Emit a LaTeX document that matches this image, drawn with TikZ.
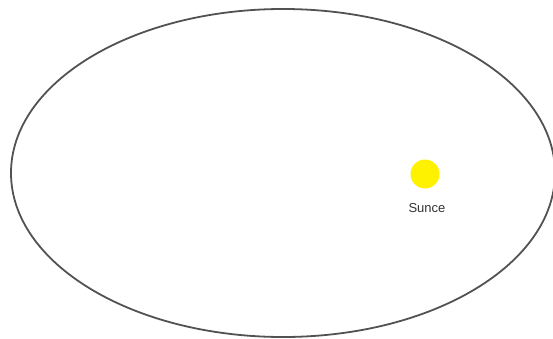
\documentclass[tikz,border=0pt]{standalone}
\usepackage{fontspec}
\setmainfont{Liberation Sans}

\begin{document}
\begin{tikzpicture}[x=1pt,y=-1pt]
\path[use as bounding box] (0,0) rectangle (553,338);
\draw[line width=1.8pt,draw=black!68] (283,173) ellipse [x radius=272,y radius=164];
\node[circle,fill=yellow,minimum size=29pt,inner sep=0pt] (sun) at (425,174) {};
\node[text=black!80,font=\fontsize{13}{15}\selectfont] (label) at (427,208) {Sunce};
\end{tikzpicture}
\end{document}
